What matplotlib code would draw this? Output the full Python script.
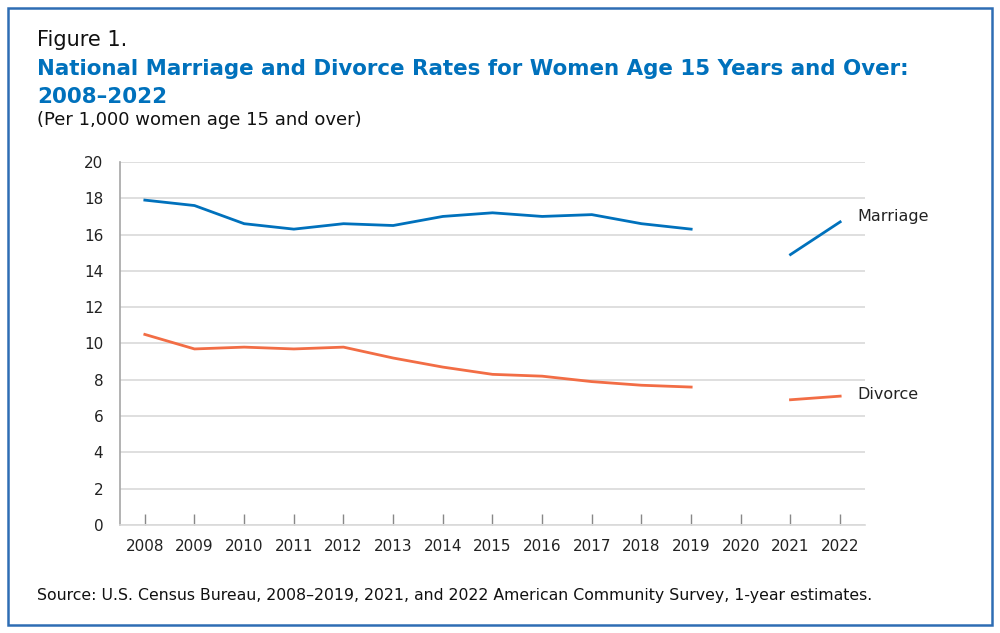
import numpy as np
import matplotlib.pyplot as plt
from matplotlib.patches import Rectangle

# Data (per 1,000 women age 15 and over); 2020 has no estimate
years = [2008, 2009, 2010, 2011, 2012, 2013, 2014, 2015, 2016, 2017, 2018, 2019, 2020, 2021, 2022]
marriage = [17.9, 17.6, 16.6, 16.3, 16.6, 16.5, 17.0, 17.2, 17.0, 17.1, 16.6, 16.3, np.nan, 14.9, 16.7]
divorce = [10.5, 9.7, 9.8, 9.7, 9.8, 9.2, 8.7, 8.3, 8.2, 7.9, 7.7, 7.6, np.nan, 6.9, 7.1]
y_ticks = [0, 2, 4, 6, 8, 10, 12, 14, 16, 18, 20]

blue = '#0071BC'
orange = '#F26D45'
plt.rcParams['font.family'] = ['DejaVu Sans']

fig = plt.figure(figsize=(10, 6.33), dpi=100)
ax = fig.add_axes([0.12, 0.1706, 0.745, 0.5735])

ax.plot(years, marriage, color=blue, lw=2.0)
ax.plot(years, divorce, color=orange, lw=2.0)

ax.set_xlim(2007.5, 2022.5)
ax.set_ylim(0, 20)
ax.set_yticks(y_ticks)
ax.set_xticks(years)
ax.set_xticklabels([str(y) for y in years])
ax.grid(axis='y', color='#d9d9d9', lw=1.2)
ax.set_axisbelow(True)

for s in ['top', 'right']:
    ax.spines[s].set_visible(False)
ax.spines['left'].set_color('#a6a6a6')
ax.spines['left'].set_linewidth(1.2)
ax.spines['bottom'].set_color('#d9d9d9')
ax.spines['bottom'].set_linewidth(1.2)
ax.tick_params(axis='y', length=0, pad=12, labelsize=11, labelcolor='#222222')
ax.tick_params(axis='x', direction='in', length=8, color='#888888', width=1,
               pad=10, labelsize=11, labelcolor='#222222')

# line labels
ax.text(2022.35, marriage[-1] + 0.3, 'Marriage', fontsize=11.5, va='center', ha='left',
        color='#222222', clip_on=False)
ax.text(2022.35, divorce[-1] + 0.1, 'Divorce', fontsize=11.5, va='center', ha='left',
        color='#222222', clip_on=False)

# titles
fig.text(0.037, 1 - 46 / 633, 'Figure 1.', fontsize=15, color='#111111', va='baseline')
fig.text(0.037, 1 - 75 / 633, 'National Marriage and Divorce Rates for Women Age 15 Years and Over:',
         fontsize=15.4, fontweight='bold', color=blue, va='baseline')
fig.text(0.037, 1 - 103 / 633, '2008\u20132022', fontsize=15.4, fontweight='bold', color=blue,
         va='baseline')
fig.text(0.037, 1 - 125 / 633, '(Per 1,000 women age 15 and over)', fontsize=13,
         color='#111111', va='baseline')
fig.text(0.037, 1 - 600 / 633,
         'Source: U.S. Census Bureau, 2008\u20132019, 2021, and 2022 American Community Survey, 1-year estimates.',
         fontsize=11.3, color='#111111', va='baseline')

# border
fig.patches.append(Rectangle((0.008, 0.012), 0.984, 0.975, transform=fig.transFigure,
                             fill=False, edgecolor='#2E6DB4', lw=1.8))

fig.savefig('out.png', dpi=100)
